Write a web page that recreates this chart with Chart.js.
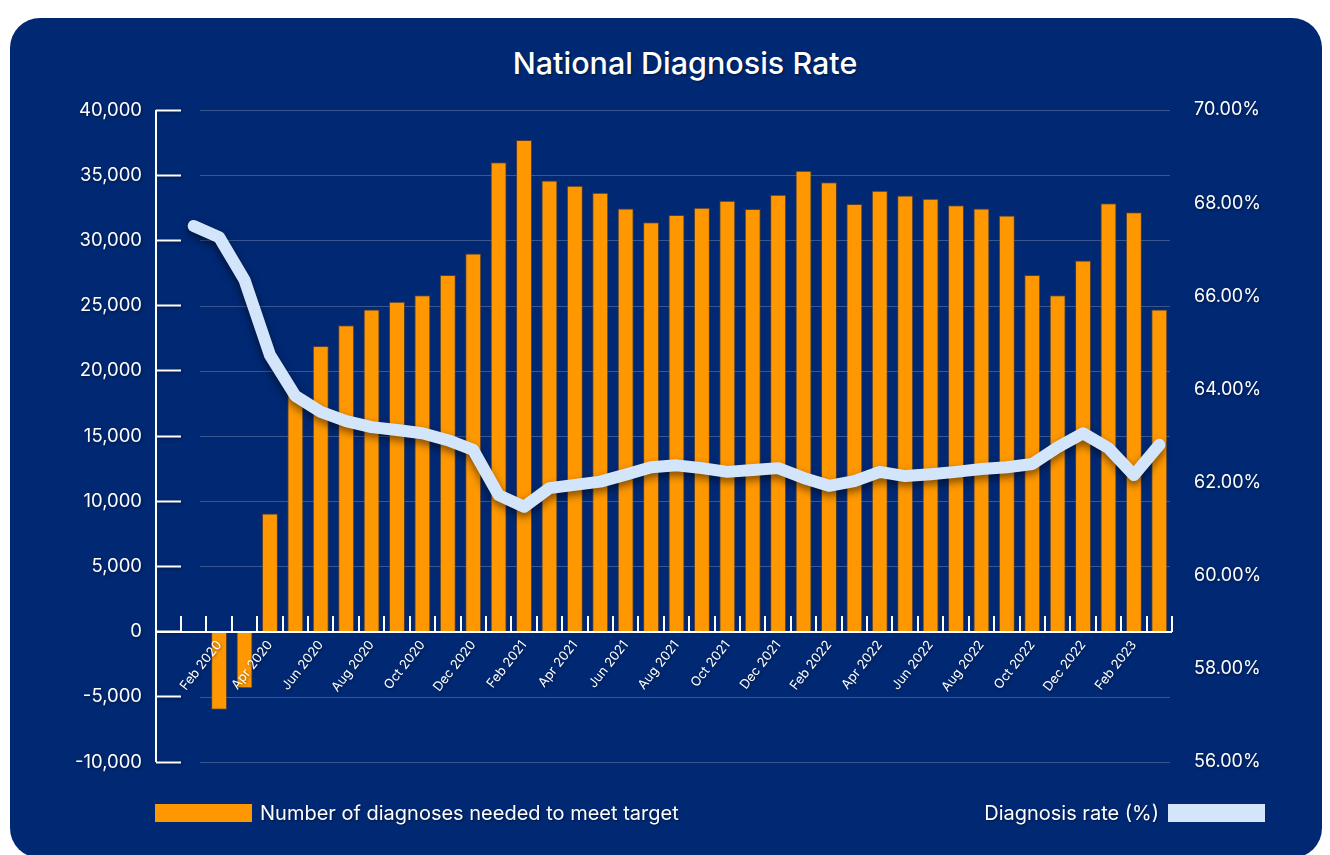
<!DOCTYPE html>
<html>
<head>
<meta charset="utf-8">
<title>National Diagnosis Rate</title>
<script src="https://cdn.jsdelivr.net/npm/chart.js@4.4.1/dist/chart.umd.min.js"></script>
<style>
    body {
        margin: 0;
        width: 1330px;
        height: 855px;
        overflow: hidden;
        background: #ffffff;
        font-family: Inter, "Open Sans", sans-serif;
    }
    .panel {
        position: absolute;
        left: 10px;
        top: 18px;
        width: 1312px;
        height: 840px;
        background: #012873;
        border-radius: 30px;
    }
    .title {
        position: absolute;
        left: 0;
        top: 44px;
        width: 1370px;
        margin: 0;
        text-align: center;
        color: #fff;
        font-size: 30.5px;
        font-weight: 500;
        line-height: 38px;
        text-shadow: 1px 1px 2px rgba(0, 0, 0, 0.45);
    }
    canvas {
        position: absolute;
        left: 0;
        top: 0;
    }
    .legend {
        position: absolute;
        top: 800px;
        height: 26px;
        display: flex;
        align-items: center;
        color: #fff;
        font-size: 20px;
        text-shadow: 1px 1px 2px rgba(0, 0, 0, 0.45);
    }
    .legend .swatch {
        display: inline-block;
        width: 97px;
        height: 18px;
    }
    .legend-bar { left: 155px; gap: 8px; }
    .legend-rate { right: 65px; gap: 9px; }
</style>
</head>
<body>
<div class="panel"></div>
<h1 class="title">National Diagnosis Rate</h1>
<canvas id="chart" width="1330" height="855"></canvas>
<div class="legend legend-bar"><span class="swatch" id="swatchBar"></span><span>Number of diagnoses needed to meet target</span></div>
<div class="legend legend-rate"><span>Diagnosis rate (%)</span><span class="swatch" id="swatchRate"></span></div>

<script>
// ==============================================
// Data
const months = [
    'Jan 2020', 'Feb 2020', 'Mar 2020', 'Apr 2020', 'May 2020', 'Jun 2020', 'Jul 2020', 'Aug 2020',
    'Sep 2020', 'Oct 2020', 'Nov 2020', 'Dec 2020', 'Jan 2021', 'Feb 2021', 'Mar 2021', 'Apr 2021',
    'May 2021', 'Jun 2021', 'Jul 2021', 'Aug 2021', 'Sep 2021', 'Oct 2021', 'Nov 2021', 'Dec 2021',
    'Jan 2022', 'Feb 2022', 'Mar 2022', 'Apr 2022', 'May 2022', 'Jun 2022', 'Jul 2022', 'Aug 2022',
    'Sep 2022', 'Oct 2022', 'Nov 2022', 'Dec 2022', 'Jan 2023', 'Feb 2023', 'Mar 2023'
];

// Number of diagnoses needed to meet target (left axis)
const diagnosesNeeded = [
    null, -6000, -4350, 9050, 18150, 21900, 23500, 24700,
    25300, 25800, 27350, 29000, 36000, 37700, 34600, 34200,
    33650, 32450, 31400, 31950, 32500, 33050, 32400, 33500,
    35350, 34450, 32800, 33800, 33450, 33200, 32700, 32450,
    31900, 27350, 25800, 28450, 32850, 32150, 24700
];

// Diagnosis rate in % (right axis)
const diagnosisRate = [
    67.51, 67.27, 66.35, 64.74, 63.86, 63.52, 63.32, 63.19,
    63.13, 63.06, 62.91, 62.70, 61.73, 61.48, 61.88, 61.95,
    62.02, 62.17, 62.33, 62.37, 62.31, 62.23, 62.27, 62.31,
    62.10, 61.93, 62.03, 62.23, 62.14, 62.18, 62.23, 62.29,
    62.33, 62.40, 62.76, 63.06, 62.74, 62.16, 62.81
];

// Axis ranges
const countAxis = [-10000, 40000, 5000];   // min, max, step
const rateAxis = [56, 70, 2];

const BAR_COLOR = '#ff9800';
const RATE_COLOR = '#d3e5fb';
const GRID_COLOR = 'rgba(255, 255, 255, 0.22)';

document.getElementById('swatchBar').style.background = BAR_COLOR;
document.getElementById('swatchRate').style.background = RATE_COLOR;

Chart.defaults.font.family = 'Inter, "Open Sans", sans-serif';
Chart.defaults.color = '#ffffff';

// ==============================================
// Axis lines, tick marks, grid and shadows
const axisDecor = {
    id: 'axisDecor',
    beforeDraw(chart) {
        const ctx = chart.ctx;
        ctx.save();
        ctx.shadowColor = 'rgba(0, 0, 0, 0.45)';
        ctx.shadowBlur = 3;
        ctx.shadowOffsetX = 1;
        ctx.shadowOffsetY = 1;
    },
    beforeDatasetsDraw(chart) {
        const {ctx, chartArea, scales} = chart;
        ctx.restore();
        ctx.save();
        ctx.strokeStyle = GRID_COLOR;
        ctx.lineWidth = 1;
        scales.y.ticks.forEach(function (t) {
            const py = Math.round(scales.y.getPixelForValue(t.value)) + 0.5;
            ctx.beginPath();
            ctx.moveTo(chartArea.left + 19, py);
            ctx.lineTo(chartArea.right - 2, py);
            ctx.stroke();
        });
        ctx.restore();
    },
    beforeDatasetDraw(chart, args) {
        if (args.meta.type !== 'line') return;
        const ctx = chart.ctx;
        ctx.save();
        ctx.shadowColor = 'rgba(0, 0, 0, 0.5)';
        ctx.shadowBlur = 8;
        ctx.shadowOffsetY = 4;
    },
    afterDatasetDraw(chart, args) {
        if (args.meta.type !== 'line') return;
        chart.ctx.restore();
    },
    afterDatasetsDraw(chart) {
        const {ctx, chartArea, scales} = chart;
        const y = scales.y;
        const x = scales.x;
        const tickLen = y.options.grid.tickLength;
        const zeroY = Math.round(y.getPixelForValue(0));
        const n = x.ticks.length;
        const slot = chartArea.width / n;

        ctx.save();
        ctx.strokeStyle = '#ffffff';
        ctx.lineWidth = 2;

        // left axis line
        ctx.beginPath();
        ctx.moveTo(chartArea.left - tickLen, y.getPixelForValue(countAxis[1]));
        ctx.lineTo(chartArea.left - tickLen, y.getPixelForValue(countAxis[0]));
        ctx.stroke();

        // x axis line at zero
        ctx.beginPath();
        ctx.moveTo(chartArea.left - tickLen, zeroY);
        ctx.lineTo(chartArea.right, zeroY);
        ctx.stroke();

        // x tick marks between categories, pointing up
        for (let i = 0; i <= n; i++) {
            const px = Math.round(chartArea.left + i * slot);
            ctx.beginPath();
            ctx.moveTo(px, zeroY);
            ctx.lineTo(px, zeroY - 16);
            ctx.stroke();
        }
        ctx.restore();

        // shadow for x labels drawn after datasets
        ctx.save();
        ctx.shadowColor = 'rgba(0, 0, 0, 0.45)';
        ctx.shadowBlur = 3;
        ctx.shadowOffsetX = 1;
        ctx.shadowOffsetY = 1;
    },
    afterDraw(chart) {
        chart.ctx.restore();
    }
};

// ==============================================
new Chart(document.getElementById('chart'), {
    type: 'bar',
    data: {
        labels: months,
        datasets: [
            {
                type: 'line',
                label: 'Diagnosis rate (%)',
                data: diagnosisRate,
                yAxisID: 'yRate',
                borderColor: RATE_COLOR,
                borderWidth: 12,
                borderCapStyle: 'round',
                borderJoinStyle: 'round',
                pointRadius: 0,
                tension: 0,
                order: 0
            },
            {
                type: 'bar',
                label: 'Number of diagnoses needed to meet target',
                data: diagnosesNeeded,
                yAxisID: 'y',
                backgroundColor: BAR_COLOR,
                borderColor: 'rgba(150, 80, 0, 0.55)',
                borderWidth: 1,
                barPercentage: 0.63,
                categoryPercentage: 1,
                order: 1
            }
        ]
    },
    options: {
        responsive: false,
        animation: false,
        devicePixelRatio: 1,
        layout: {
            padding: {top: 110, bottom: 93, left: 0, right: 0}
        },
        plugins: {
            legend: {display: false},
            title: {display: false},
            tooltip: {enabled: false}
        },
        scales: {
            x: {
                position: {y: 0},
                grid: {display: false, drawTicks: false},
                border: {display: false},
                ticks: {
                    z: 1, // labels over the negative bars
                    color: '#ffffff',
                    font: {size: 13},
                    autoSkip: false,
                    minRotation: 52,
                    maxRotation: 52,
                    padding: 6,
                    callback: function (value, index) {
                        return index % 2 === 1 ? months[index] : '';
                    }
                }
            },
            y: {
                position: 'left',
                min: countAxis[0],
                max: countAxis[1],
                ticks: {
                    stepSize: countAxis[2],
                    color: '#ffffff',
                    font: {size: 18.5},
                    padding: 14
                },
                grid: {
                    drawOnChartArea: false,
                    drawTicks: true,
                    tickLength: 25,
                    tickColor: '#ffffff',
                    tickWidth: 2
                },
                border: {display: false},
                afterFit: function (scale) {
                    scale.width = 181;
                }
            },
            yRate: {
                position: 'right',
                min: rateAxis[0],
                max: rateAxis[1],
                ticks: {
                    stepSize: rateAxis[2],
                    color: '#ffffff',
                    font: {size: 18},
                    padding: 22,
                    callback: function (value) {
                        return value.toFixed(2) + '%';
                    }
                },
                grid: {display: false, drawTicks: false},
                border: {display: false},
                afterFit: function (scale) {
                    scale.width = 158;
                }
            }
        }
    },
    plugins: [axisDecor]
});
</script>
</body>
</html>
